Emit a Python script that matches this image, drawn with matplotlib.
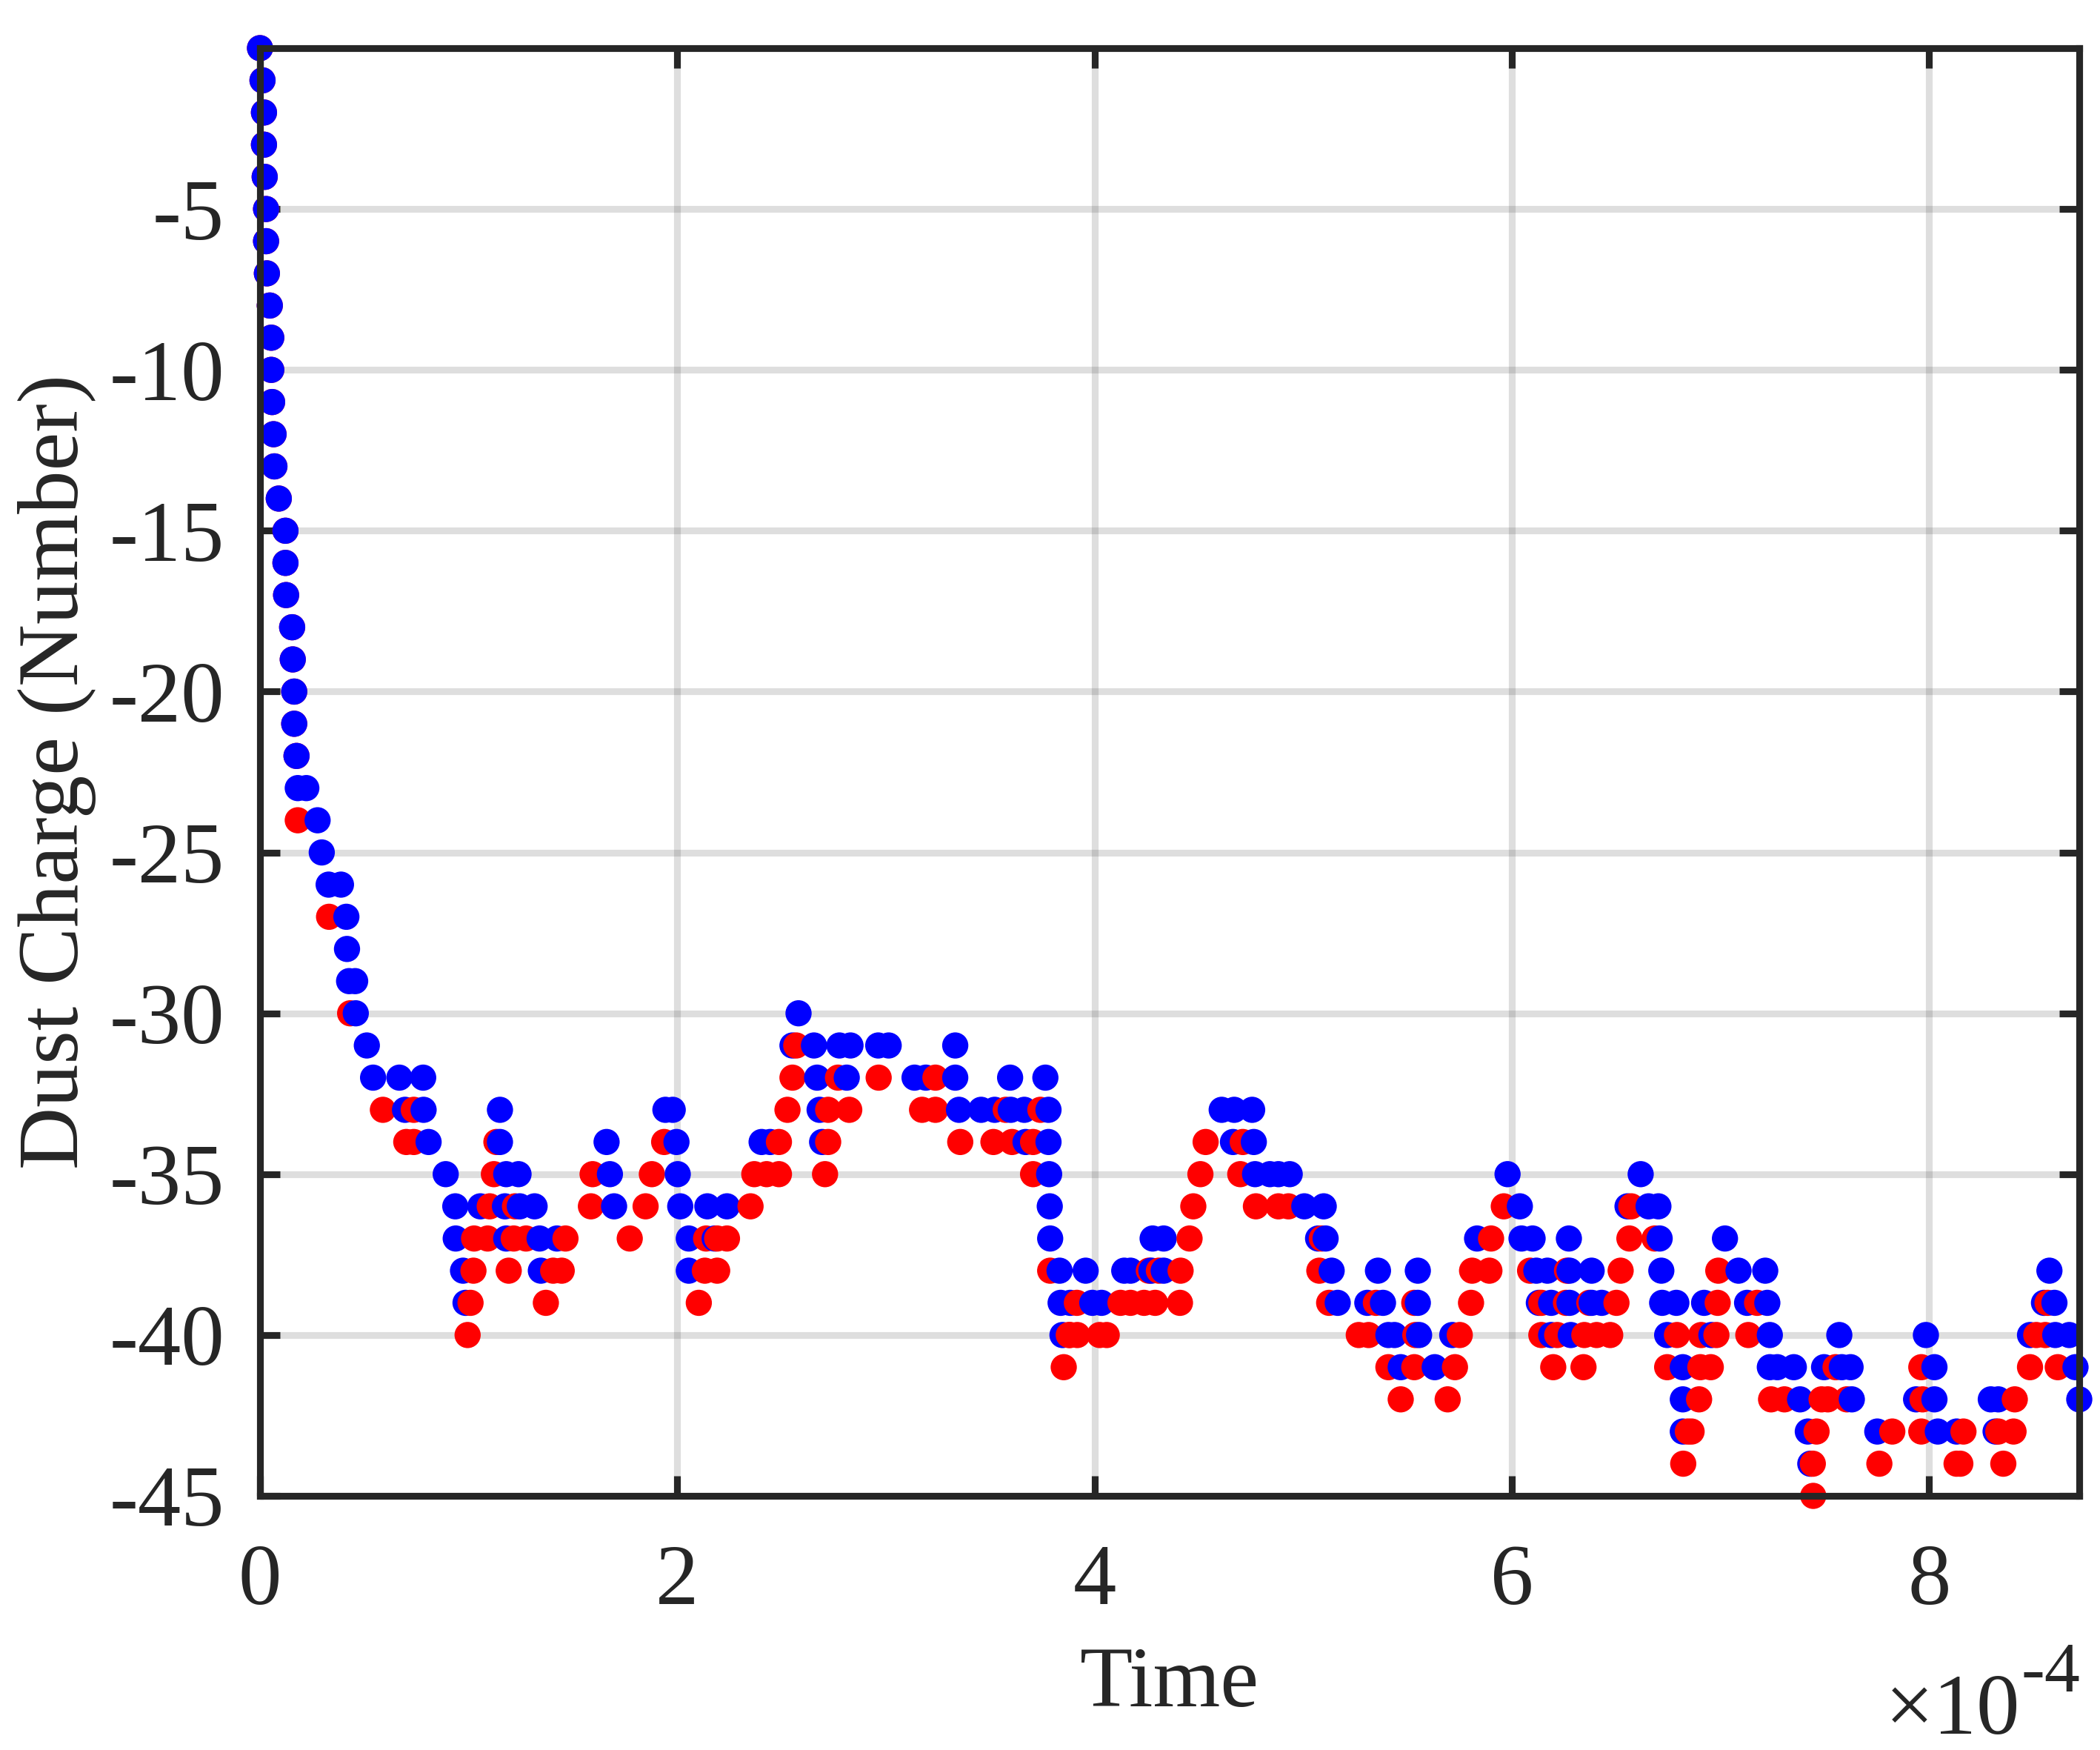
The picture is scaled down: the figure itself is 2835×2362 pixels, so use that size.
import numpy as np
import matplotlib
matplotlib.use("Agg")
import matplotlib.pyplot as plt

# ---------------- data (time in units of 1e-4) ----------------
blue_t = [0.0, 0.012, 0.019, 0.019, 0.0225, 0.029, 0.029, 0.033, 0.047, 0.054, 0.054, 0.058,
          0.065, 0.069, 0.090, 0.122, 0.122, 0.125, 0.154, 0.157, 0.164, 0.164, 0.175,
          0.181, 0.222, 0.276, 0.296, 0.329, 0.388, 0.414, 0.417, 0.427, 0.456, 0.459, 0.512,
          0.542, 0.668, 0.782, 0.695, 0.784, 0.808, 0.890, 0.936, 0.938, 0.973, 0.985,
          1.056, 1.174, 1.245, 1.316, 1.150, 1.150, 1.180, 1.239, 1.180, 1.340, 1.423, 1.346,
          1.661, 1.677, 1.697, 1.943, 1.978, 1.996, 2.002, 2.014, 2.055, 2.055,
          2.144, 2.179, 2.238,
          2.404, 2.445, 2.552, 2.581, 2.655, 2.670, 2.682, 2.694, 2.777, 2.830, 2.812,
          2.963, 3.013, 3.137, 3.191, 3.332, 3.332, 3.350, 3.456, 3.521, 3.598, 3.595, 3.663, 3.669,
          3.764, 3.779, 3.779, 3.782, 3.785, 3.787,
          3.832, 3.837, 3.846, 3.883, 3.957, 3.989, 4.033, 4.142, 4.172, 4.272, 4.331, 4.278, 4.331,
          4.609, 4.669, 4.755, 4.663, 4.763, 4.769, 4.840, 4.881, 4.935, 5.005, 5.098, 5.071, 5.107,
          5.136, 5.165, 5.307, 5.358, 5.382, 5.408, 5.437, 5.467,
          5.549, 5.549, 5.555, 5.630, 5.714, 5.833, 5.979, 6.038, 6.046, 6.099, 6.117, 6.170, 6.129,
          6.188, 6.188, 6.273, 6.276, 6.276, 6.282, 6.382, 6.382, 6.430,
          6.554, 6.617, 6.655, 6.702, 6.708, 6.716, 6.720, 6.744, 6.788, 6.819, 6.819, 6.819,
          6.921, 6.956, 7.021, 7.086,
          7.127, 7.214, 7.224, 7.236, 7.236, 7.272, 7.351, 7.381, 7.418, 7.430,
          7.496, 7.569, 7.581, 7.623, 7.629, 7.751, 7.937, 7.984, 8.025, 8.025, 8.041, 8.131,
          8.295, 8.331, 8.318, 8.483, 8.550, 8.576, 8.600, 8.604, 8.671, 8.701, 8.719]
blue_q = [0, -1, -2, -3, -4, -5, -6, -7, -8, -9, -10, -11,
          -12, -13, -14, -15, -16, -17, -18, -19, -20, -21, -22,
          -23, -23, -24, -25, -26, -26, -27, -28, -29, -29, -30, -31,
          -32, -32, -32, -33, -33, -34, -35, -36, -37, -38, -39,
          -36, -36, -36, -36, -33, -34, -35, -35, -37, -37, -37, -38,
          -34, -35, -36, -33, -33, -34, -35, -36, -37, -38,
          -36, -37, -36,
          -34, -34, -31, -30, -31, -32, -33, -34, -31, -31, -32,
          -31, -31, -32, -32, -31, -32, -33, -33, -33, -33, -32, -33, -34,
          -32, -33, -34, -35, -36, -37,
          -38, -39, -40, -39, -38, -39, -39, -38, -38, -38, -38, -37, -37,
          -33, -33, -33, -34, -34, -35, -35, -35, -35, -36, -36, -37, -37,
          -38, -39, -39, -38, -39, -40, -40, -41,
          -38, -39, -40, -41, -40, -37, -35, -36, -37, -37, -38, -38, -39,
          -39, -40, -37, -38, -39, -40, -38, -39, -39,
          -36, -35, -36, -36, -37, -38, -39, -40, -39, -41, -42, -43,
          -39, -40, -37, -38,
          -39, -38, -39, -40, -41, -41, -41, -42, -43, -44,
          -41, -40, -41, -41, -42, -43, -42, -40, -41, -42, -43, -43,
          -42, -42, -43, -40, -39, -38, -39, -40, -40, -41, -42]

red_t = [0.0, 0.012, 0.019, 0.019, 0.0225, 0.029, 0.029, 0.033, 0.047, 0.054, 0.054, 0.058,
         0.065, 0.069, 0.090, 0.122, 0.122, 0.125, 0.154, 0.157, 0.164, 0.164, 0.175,
         0.181, 0.331, 0.432,
         0.589, 0.701, 0.737, 0.737, 1.026, 1.023, 1.009, 0.995,
         1.101, 1.091, 1.121, 1.133, 1.192, 1.216, 1.222, 1.275, 1.370, 1.405, 1.446, 1.464,
         1.586, 1.594, 1.772, 1.848, 1.878, 1.937,
         2.103, 2.132, 2.138, 2.191, 2.191, 2.238,
         2.351, 2.369, 2.428, 2.487, 2.487, 2.528, 2.552, 2.570,
         2.708, 2.723, 2.723, 2.770, 2.824, 2.965, 3.173, 3.237, 3.237,
         3.356, 3.515, 3.574, 3.604, 3.705, 3.705, 3.740,
         3.787, 3.852, 3.876, 3.915, 3.883, 3.917,
         4.024, 4.058, 4.124, 4.172, 4.237, 4.290, 4.409, 4.260, 4.308, 4.412, 4.455, 4.473, 4.507, 4.532,
         4.698, 4.710, 4.773, 4.881, 4.929,
         5.077, 5.089, 5.124, 5.266, 5.313, 5.348, 5.408, 5.467,
         5.532, 5.537, 5.532, 5.692, 5.727, 5.750, 5.804, 5.809, 5.892, 5.900, 5.961,
         6.087, 6.141, 6.141, 6.198, 6.217, 6.259, 6.264, 6.343, 6.347, 6.371, 6.406, 6.471, 6.501, 6.521,
         6.563, 6.572, 6.684, 6.744, 6.791, 6.821, 6.843, 6.861, 6.897, 6.903, 6.907, 6.953, 6.980, 6.986, 6.989,
         7.133, 7.175, 7.242, 7.306, 7.444, 7.442, 7.460, 7.484, 7.514, 7.551, 7.605, 7.761, 7.823,
         7.962, 7.962, 7.968, 8.131, 8.149, 8.164, 8.331, 8.355, 8.404, 8.410, 8.483, 8.513, 8.556, 8.567, 8.616]
red_q = [0, -1, -2, -3, -4, -5, -6, -7, -8, -9, -10, -11,
         -12, -13, -14, -15, -16, -17, -18, -19, -20, -21, -22,
         -24, -27, -30,
         -33, -34, -33, -34, -37, -38, -39, -40,
         -36, -37, -35, -34, -38, -37, -36, -37, -39, -38, -38, -37,
         -36, -35, -37, -36, -35, -34,
         -39, -38, -37, -38, -37, -37,
         -36, -35, -35, -35, -34, -33, -32, -31,
         -35, -34, -33, -32, -33, -32, -33, -33, -32,
         -34, -34, -33, -34, -35, -34, -33,
         -38, -41, -40, -39, -40, -40,
         -40, -40, -39, -39, -39, -39, -39, -38, -38, -38, -37, -36, -35, -34,
         -35, -34, -36, -36, -36,
         -38, -37, -39, -40, -40, -39, -41, -42,
         -39, -40, -41, -42, -41, -40, -39, -38, -38, -37, -36,
         -38, -39, -40, -41, -40, -39, -38, -41, -40, -39, -40, -40, -39, -38,
         -37, -36, -37, -41, -40, -44, -43, -43, -42, -41, -40, -41, -40, -39, -38,
         -40, -39, -42, -42, -45, -44, -43, -42, -42, -41, -42, -44, -43,
         -43, -41, -42, -44, -44, -43, -43, -44, -43, -42, -41, -40, -40, -39, -41]

x_ticks = [0, 2, 4, 6, 8]
y_ticks = [-45, -40, -35, -30, -25, -20, -15, -10, -5]
x_label = "Time"
y_label = "Dust Charge (Number)"

# ---------------- style ----------------
plt.rcParams['font.family'] = ['Liberation Serif', 'DejaVu Serif']
plt.rcParams['axes.unicode_minus'] = False

W, H, DPI = 2835, 2362, 300
fig = plt.figure(figsize=(W / DPI, H / DPI), dpi=DPI)
L, R, T, B = 351, 2807, 65, 2019
ax = fig.add_axes([L / W, 1 - B / H, (R - L) / W, (B - T) / H])

dark = '#262626'
RED, BLUE = '#ff0000', '#0000ff'

# draw points in time order (red before blue at ties), like sequential plotting
t_all = np.array(red_t + blue_t, dtype=float)
q_all = np.array(red_q + blue_q, dtype=float)
c_all = np.array([RED] * len(red_t) + [BLUE] * len(blue_t))
order = np.argsort(t_all, kind='stable')
ax.scatter(t_all[order], q_all[order], s=72, c=c_all[order], linewidths=0,
           clip_on=False, zorder=3)

ax.set_xlim(0, max(blue_t))
ax.set_ylim(-45, 0)
ax.set_xticks(x_ticks)
ax.set_yticks(y_ticks)
ax.set_xticklabels([str(v) for v in x_ticks])
ax.set_yticklabels([str(v) for v in y_ticks])

ax.grid(True, color=(0.15, 0.15, 0.15), alpha=0.15, linewidth=2.2, zorder=0)
ax.set_axisbelow(True)

for s in ax.spines.values():
    s.set_linewidth(2.2)
    s.set_color(dark)
    s.set_zorder(4)

ax.tick_params(direction='in', length=6.5, width=2.2, colors=dark, top=True, right=True,
               labelsize=28)
ax.tick_params(axis='x', pad=15.5)
ax.tick_params(axis='y', pad=11.5)

ax.set_xlabel(x_label, fontsize=28, color=dark)
ax.set_ylabel(y_label, fontsize=28, color=dark)
ax.xaxis.set_label_coords(0.5, -0.104)
ax.yaxis.set_label_coords(-0.090, 0.5)

fig.text(2727 / W, 1 - 2340 / H, "\u00d710", fontsize=28, color=dark,
         ha='right', va='baseline')
fig.text(2729 / W, 1 - 2283 / H, "-4", fontsize=23, color=dark,
         ha='left', va='baseline')

fig.savefig("out.png", dpi=DPI)
